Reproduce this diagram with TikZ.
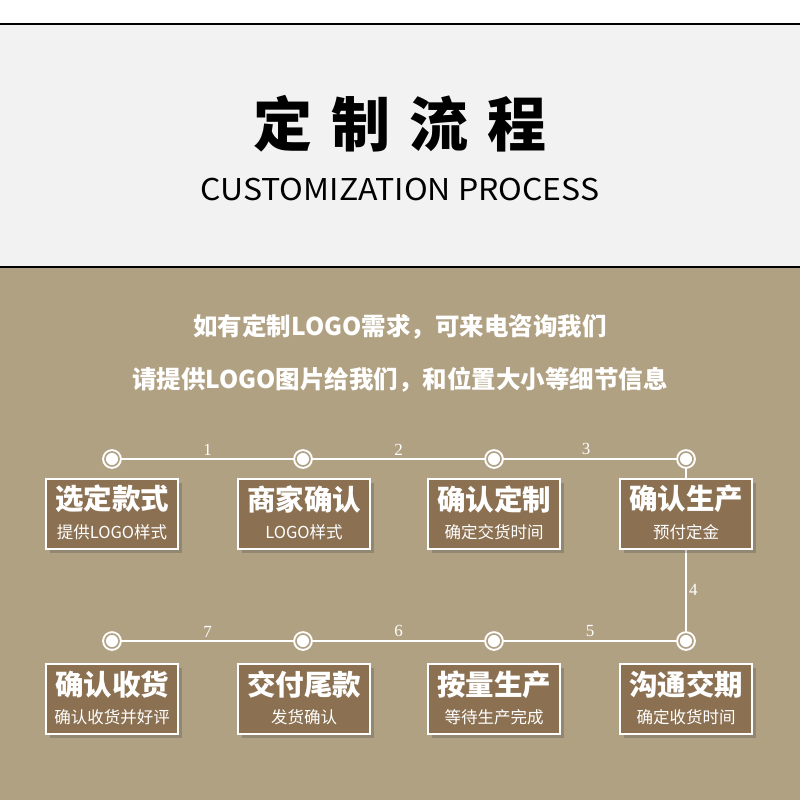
\documentclass[tikz,border=0pt]{standalone}
\usepackage{fontspec}
\setmainfont{Noto Sans CJK SC}
\newfontfamily\numfont{Liberation Serif}
\usetikzlibrary{shadows}
\definecolor{tan}{HTML}{B1A183}
\definecolor{boxbrown}{HTML}{8B7152}
\definecolor{lightgray}{HTML}{F2F2F2}
\tikzset{
  stepbox/.style={draw=white, line width=2pt, fill=boxbrown, minimum width=132pt, minimum height=70pt, inner sep=0pt,
    drop shadow={shadow xshift=4pt, shadow yshift=-4pt, opacity=0.3, fill=black!70}},
  dot/.style={circle, draw=white, line width=2pt, fill=white, inner sep=0pt, minimum size=14pt, double=tan, double distance=1.6pt},
  link/.style={draw=white, line width=2pt},
  num/.style={text=white, font=\numfont\fontsize{17}{17}\selectfont, inner sep=1pt},
  btitle/.style={text=white, font=\bfseries\fontsize{28.5}{28.5}\selectfont},
  bsub/.style={text=white, font=\fontsize{16.5}{16.5}\selectfont},
}
\begin{document}
\begin{tikzpicture}[x=1pt, y=-1pt]
\useasboundingbox (0,0) rectangle (800,800);
\fill[white] (0,0) rectangle (800,24);
\fill[lightgray] (0,24) rectangle (800,267);
\fill[tan] (0,267) rectangle (800,800);
\draw[black, line width=1.5pt] (0,24) -- (800,24);
\draw[black, line width=1.5pt] (0,267) -- (800,267);

\node (title) at (400,124) {\fontsize{59}{59}\selectfont\bfseries 定\hspace{0.32em}制\hspace{0.32em}流\hspace{0.32em}程};
\node (sub) at (400,190) {\scalebox{1.067}[1]{\fontsize{30}{30}\selectfont CUSTOMIZATION PROCESS}};
\node[text=white] (l1) at (400,327) {\fontsize{24.5}{24.5}\selectfont\bfseries 如有定制LOGO需求，可来电咨询我们};
\node[text=white] (l2) at (400,380) {\fontsize{24.5}{24.5}\selectfont\bfseries 请提供LOGO图片给我们，和位置大小等细节信息};

% circles
\coordinate (c1) at (112,459);
\coordinate (c2) at (303,459);
\coordinate (c3) at (494,459);
\coordinate (c4) at (686,459);
\coordinate (c5) at (686,641);
\coordinate (c6) at (494,641);
\coordinate (c7) at (303,641);
\coordinate (c8) at (112,641);

\draw[link] (c1) -- node[num, above=2pt] {1} (c2) -- node[num, above=2pt] {2} (c3) -- node[num, above=2pt, pos=0.48] {3} (c4)
  -- node[num, right=1pt, pos=0.72] {4} (c5) -- node[num, above=2pt] {5} (c6) -- node[num, above=2pt] {6} (c7) -- node[num, above=2pt] {7} (c8);

\foreach \c in {c1,c2,c3,c4,c5,c6,c7,c8} \node[dot] (d\c) at (\c) {};

% boxes
\node[stepbox] (b1) at (112,514) {};
\node[btitle] (t1) at (112,499) {选定款式};
\node[bsub] (s1) at (112,532) {提供LOGO样式};
\node[stepbox] (b2) at (304,514) {};
\node[btitle] (t2) at (304,499) {商家确认};
\node[bsub] (s2) at (304,532) {LOGO样式};
\node[stepbox] (b3) at (494,514) {};
\node[btitle] (t3) at (494,499) {确认定制};
\node[bsub] (s3) at (494,532) {确定交货时间};
\node[stepbox] (b4) at (686,514) {};
\node[btitle] (t4) at (686,499) {确认生产};
\node[bsub] (s4) at (686,532) {预付定金};

\node[stepbox] (b8) at (112,699) {};
\node[btitle] (t8) at (112,685) {确认收货};
\node[bsub] (s8) at (112,717) {确认收货并好评};
\node[stepbox] (b7) at (304,699) {};
\node[btitle] (t7) at (304,685) {交付尾款};
\node[bsub] (s7) at (304,717) {发货确认};
\node[stepbox] (b6) at (494,699) {};
\node[btitle] (t6) at (494,685) {按量生产};
\node[bsub] (s6) at (494,717) {等待生产完成};
\node[stepbox] (b5) at (686,699) {};
\node[btitle] (t5) at (686,685) {沟通交期};
\node[bsub] (s5) at (686,717) {确定收货时间};
\end{tikzpicture}
\end{document}
